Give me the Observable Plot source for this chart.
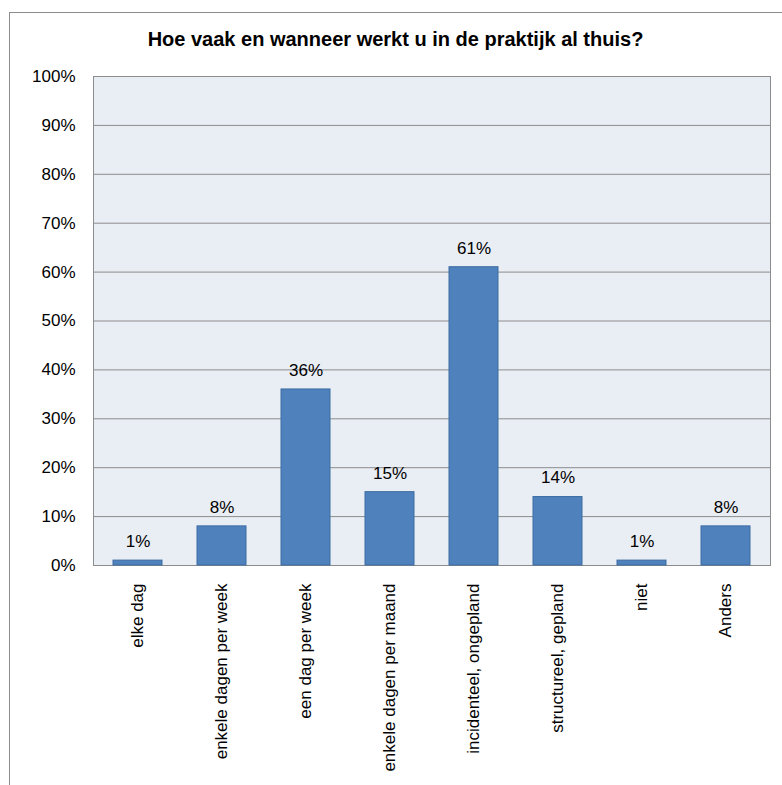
<!DOCTYPE html>
<html>
<head>
<meta charset="utf-8">
<script src="https://cdn.jsdelivr.net/npm/d3@7"></script>
<script src="https://cdn.jsdelivr.net/npm/@observablehq/plot@0.6"></script>
<style>
  html, body { margin: 0; padding: 0; background: #fff; }
  #wrap { position: relative; width: 782px; height: 785px; overflow: hidden; }
  #frame { position: absolute; left: 9px; top: 12px; width: 800px; height: 800px;
           border-left: 1px solid #8c8c8c; border-top: 1px solid #8c8c8c; box-sizing: border-box; }
  #title { position: absolute; left: 9px; width: 773px; top: 27px; text-align: center;
           font-family: "Liberation Sans", Arial, sans-serif; font-weight: bold; font-size: 20px;
           line-height: 24px; color: #000; }
  #chart { position: absolute; left: 0; top: 0; }
  svg text { font-family: "Liberation Sans", Arial, sans-serif; }
</style>
</head>
<body>
<div id="wrap"><div id="frame"></div><div id="title"></div><div id="chart"></div></div>
<script>
const title = "Hoe vaak en wanneer werkt u in de praktijk al thuis?";
const categories = ["elke dag", "enkele dagen per week", "een dag per week", "enkele dagen per maand",
  "incidenteel, ongepland", "structureel, gepland", "niet", "Anders"];
const values = [1, 8, 36, 15, 61, 14, 1, 8];
const yTicks = [0, 10, 20, 30, 40, 50, 60, 70, 80, 90, 100];

document.getElementById("title").textContent = title;

const data = categories.map((c, i) => ({category: c, value: values[i]}));
const font = "Liberation Sans, Arial, sans-serif";

const chart = Plot.plot({
  width: 782,
  height: 785,
  marginLeft: 93,
  marginRight: 12,
  marginTop: 76,
  marginBottom: 220,
  style: {background: "transparent", fontFamily: font},
  x: {domain: categories, paddingInner: 0.42, paddingOuter: 0.21, axis: null},
  y: {domain: [0, 100], axis: null},
  marks: [
    Plot.frame({fill: "#E9EDF4", stroke: null}),
    Plot.ruleY(yTicks, {stroke: "#8c8c8c", strokeWidth: 1}),
    Plot.frame({stroke: "#8c8c8c", fill: null}),
    Plot.barY(data, {x: "category", y: "value", fill: "#4F81BD", stroke: "#3D6CA1", strokeWidth: 1}),
    Plot.text(data, {x: "category", y: "value", text: d => d.value + "%", dy: -19,
      fontSize: 17, fill: "#000", lineAnchor: "middle"}),
    Plot.text(yTicks, {y: d => d, text: d => d + "%", frameAnchor: "left", dx: -18,
      textAnchor: "end", fontSize: 17, fill: "#000", lineAnchor: "middle"}),
    Plot.text(categories, {x: d => d, frameAnchor: "bottom", dy: 18, rotate: -90,
      textAnchor: "end", lineAnchor: "middle", fontSize: 17, fill: "#000"})
  ]
});
document.getElementById("chart").appendChild(chart);
</script>
</body>
</html>
